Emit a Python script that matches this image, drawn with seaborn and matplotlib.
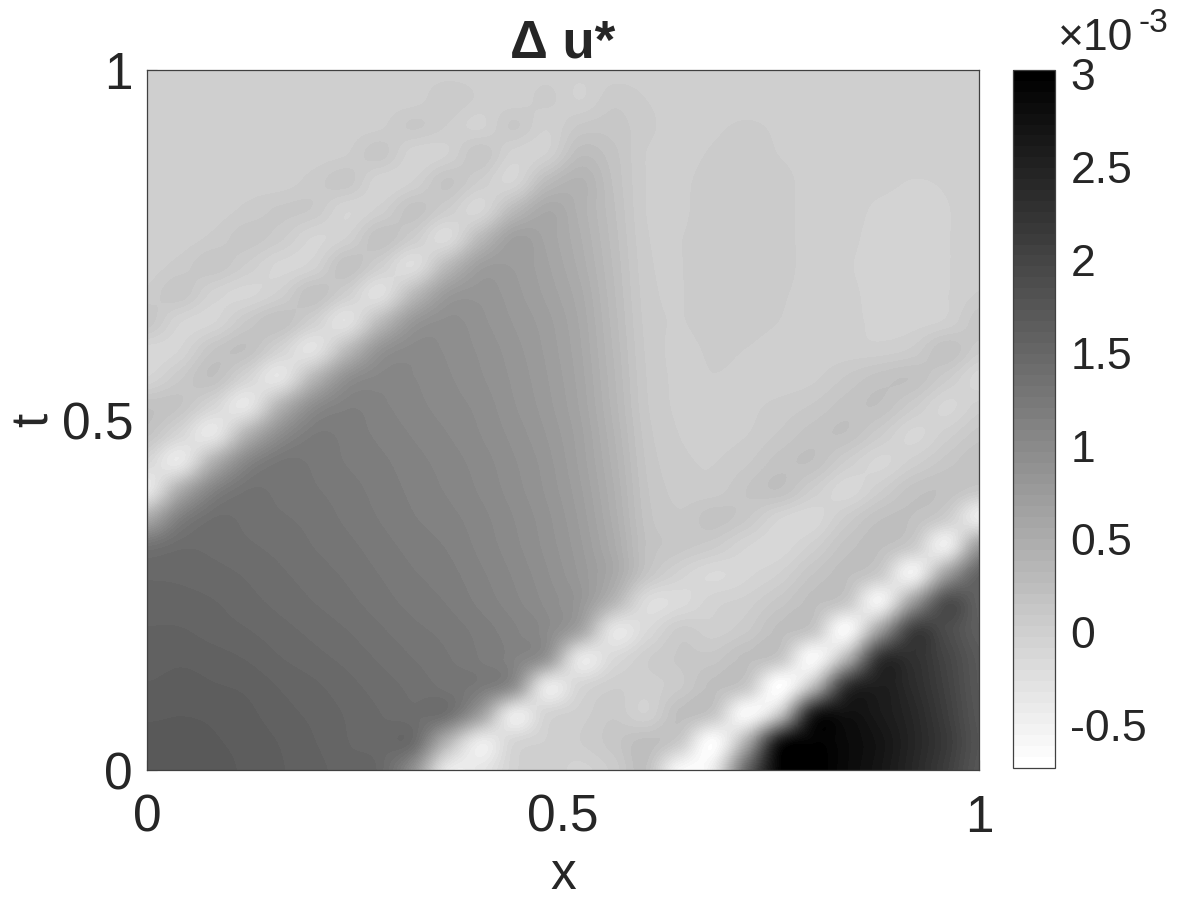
import numpy as np
import pandas as pd
import matplotlib
matplotlib.use('Agg')
import matplotlib.pyplot as plt
from matplotlib.colors import ListedColormap
import seaborn as sns

# grid, values in units of 1e-3
x_vals = [0.00,0.04,0.08,0.12,0.16,0.20,0.24,0.28,0.32,0.36,0.40,0.44,0.48,0.52,0.56,0.60,0.64,0.68,0.72,0.76,0.80,0.84,0.88,0.92,0.96,1.00]
t_vals = [0.00,0.04,0.08,0.12,0.16,0.20,0.24,0.28,0.32,0.36,0.40,0.44,0.48,0.52,0.56,0.60,0.64,0.68,0.72,0.76,0.80,0.84,0.88,0.92,0.96,1.00]

du = [
 [1.72,1.72,1.70,1.66,1.62,1.58,1.52,1.47,0.90,-.35,-.35,-.05,0.02,-.05,0.05,0.20,-.60,-.40,1.50,2.95,3.02,2.85,2.68,2.42,2.10,1.75],
 [1.70,1.70,1.68,1.65,1.61,1.56,1.50,1.46,1.40,0.40,-.40,-.10,-.02,0.03,0.12,0.23,0.05,-.65,0.50,2.60,2.95,2.85,2.70,2.45,2.15,1.78],
 [1.66,1.67,1.66,1.63,1.58,1.54,1.49,1.44,1.39,1.33,0.70,-.38,-.08,0.00,0.08,-.02,0.22,0.10,-.60,0.20,2.50,2.75,2.62,2.42,2.10,1.75],
 [1.62,1.64,1.62,1.60,1.55,1.51,1.46,1.41,1.36,1.30,1.22,0.90,-.35,-.10,0.02,0.00,0.08,0.22,0.08,-.68,0.30,2.20,2.55,2.35,2.05,1.72],
 [1.58,1.60,1.58,1.55,1.50,1.46,1.42,1.37,1.32,1.27,1.20,1.10,0.80,-.33,-.15,0.02,0.10,0.12,0.22,0.10,-.60,0.40,2.20,2.28,2.00,1.70],
 [1.56,1.56,1.53,1.50,1.46,1.42,1.38,1.33,1.28,1.24,1.18,1.10,0.98,0.60,-.30,-.15,0.05,0.00,0.08,0.22,0.10,-.60,0.70,2.05,1.90,1.62],
 [1.52,1.52,1.50,1.46,1.42,1.38,1.34,1.29,1.24,1.20,1.13,1.05,0.95,0.80,0.35,-.18,-.17,-.05,0.00,0.12,0.22,0.08,-.50,0.75,1.85,1.58],
 [1.48,1.48,1.46,1.43,1.39,1.35,1.31,1.26,1.21,1.17,1.10,1.02,0.92,0.78,0.55,0.15,-.05,-.15,-.10,-.02,0.15,0.22,0.05,-.48,0.70,1.55],
 [1.32,1.42,1.42,1.39,1.36,1.32,1.28,1.23,1.18,1.14,1.07,0.99,0.89,0.75,0.52,0.20,0.12,0.05,-.08,-.12,0.00,0.18,0.22,0.05,-.43,0.75],
 [0.55,1.15,1.38,1.36,1.33,1.30,1.25,1.20,1.15,1.11,1.05,0.97,0.87,0.72,0.48,0.18,0.10,0.18,0.10,-.08,-.12,0.05,0.20,0.20,0.02,-.42],
 [-.35,0.50,1.10,1.32,1.30,1.27,1.23,1.18,1.13,1.08,1.02,0.94,0.84,0.69,0.45,0.16,0.07,0.06,0.15,0.20,0.02,-.12,0.02,0.18,0.20,0.10],
 [-.12,-.35,0.45,1.05,1.27,1.25,1.20,1.16,1.11,1.06,1.00,0.92,0.82,0.66,0.42,0.14,0.05,0.03,0.08,0.18,0.20,0.02,-.10,0.00,0.12,0.20],
 [0.17,-.10,-.33,0.40,0.95,1.20,1.18,1.13,1.08,1.03,0.97,0.89,0.79,0.64,0.39,0.12,0.03,0.02,0.03,0.10,0.18,0.20,0.05,-.10,0.00,0.12],
 [0.20,0.15,-.10,-.32,0.40,0.95,1.13,1.10,1.05,1.00,0.95,0.86,0.76,0.61,0.36,0.10,0.02,0.02,0.02,0.05,0.10,0.18,0.20,0.05,-.10,0.00],
 [-.08,0.08,0.20,-.08,-.30,0.35,0.90,1.05,1.03,0.98,0.92,0.84,0.74,0.59,0.34,0.09,0.02,0.03,0.02,0.00,0.02,0.10,0.18,0.20,0.05,-.12],
 [-.12,-.08,0.15,0.20,-.06,-.27,0.30,0.85,1.00,0.96,0.90,0.82,0.72,0.57,0.32,0.08,0.02,0.04,0.03,0.00,0.00,0.00,0.00,0.05,0.20,0.05],
 [0.13,-.08,-.09,0.10,0.20,-.02,-.25,0.30,0.80,0.93,0.87,0.79,0.70,0.55,0.30,0.07,0.03,0.06,0.06,0.03,0.00,0.00,-.05,-.05,-.01,0.13],
 [0.05,0.13,-.05,-.10,0.00,0.20,0.00,-.23,0.30,0.75,0.83,0.76,0.66,0.52,0.28,0.06,0.03,0.07,0.07,0.04,0.01,-.01,-.05,-.05,-.03,0.04],
 [0.00,0.06,0.13,0.02,-.10,-.05,0.20,0.00,-.20,0.30,0.70,0.73,0.63,0.48,0.26,0.05,0.03,0.07,0.07,0.05,0.01,-.02,-.05,-.05,-.03,0.00],
 [0.00,0.00,0.05,0.12,0.05,-.09,-.02,0.20,0.03,-.17,0.30,0.68,0.60,0.45,0.24,0.04,0.03,0.07,0.07,0.05,0.01,-.01,-.05,-.05,-.03,0.00],
 [0.00,0.00,0.00,0.05,0.10,0.08,-.08,0.00,0.18,0.03,-.10,0.30,0.55,0.42,0.22,0.03,0.02,0.07,0.07,0.05,0.01,0.00,-.04,-.05,-.03,0.00],
 [0.00,0.00,0.00,0.00,0.00,0.06,0.12,-.07,-.02,0.16,0.02,-.08,0.28,0.40,0.20,0.03,0.02,0.06,0.07,0.05,0.01,0.00,-.01,-.03,-.02,0.00],
 [0.00,0.00,0.00,0.00,0.00,0.00,0.03,0.12,-.06,-.03,0.14,-.05,-.02,0.25,0.17,0.03,0.01,0.04,0.06,0.03,0.01,0.00,0.00,0.00,0.00,0.00],
 [0.00,0.00,0.00,0.00,0.00,0.00,0.00,0.02,0.10,0.03,-.04,0.10,-.02,0.10,0.12,0.05,0.00,0.02,0.04,0.02,0.00,0.00,0.00,0.00,0.00,0.00],
 [0.00,0.00,0.00,0.00,0.00,0.00,0.00,0.00,0.00,0.08,0.02,-.01,0.05,-.03,0.07,0.03,0.00,0.00,0.00,0.00,0.00,0.00,0.00,0.00,0.00,0.00],
 [0.00,0.00,0.00,0.00,0.00,0.00,0.00,0.00,0.00,0.00,0.00,0.00,0.00,-.01,0.00,0.00,0.00,0.00,0.00,0.00,0.00,0.00,0.00,0.00,0.00,0.00],
]
cbar_ticks = [-0.5, 0, 0.5, 1, 1.5, 2, 2.5, 3]
cbar_labels = ['-0.5', '0', '0.5', '1', '1.5', '2', '2.5', '3']

sns.set_theme(style='white')
plt.rcParams['font.family'] = ['Liberation Sans', 'DejaVu Sans']

vmin, vmax = -0.73, 3.02
gray64 = ListedColormap(plt.get_cmap('gray_r')(np.linspace(0, 1, 64)))
df = pd.DataFrame(du, index=t_vals, columns=x_vals)
nx, nt = len(x_vals), len(t_vals)

fig = plt.figure(figsize=(12, 9), dpi=100)
ax = fig.add_axes([147/1200, 1-770/900, 832/1200, 700/900])
cax = fig.add_axes([1013/1200, 1-768/900, 42/1200, 698/900])

sns.heatmap(df, ax=ax, cbar_ax=cax, cmap=gray64, vmin=vmin, vmax=vmax,
            xticklabels=False, yticklabels=False)
# smooth the cells, colours stay in 64 steps like the original contour plot
ax.imshow(df.values, origin='lower', extent=(0, nx, 0, nt), aspect='auto', cmap=gray64,
          vmin=vmin, vmax=vmax, interpolation='catrom', interpolation_stage='data', zorder=2)
ax.set_xlim(0.5, nx-0.5)
ax.set_ylim(0.5, nt-0.5)

txt = '#262626'
fs = 37
ax.set_xticks([0.5, nx/2, nx-0.5])
ax.set_xticklabels(['0', '0.5', '1'])
ax.set_yticks([0.5, nt/2, nt-0.5])
ax.set_yticklabels(['0', '0.5', '1'])
ax.tick_params(axis='x', direction='in', length=7, width=0.8, color='#404040',
               labelsize=fs, labelcolor=txt, bottom=True, pad=17)
ax.tick_params(axis='y', direction='in', length=7, width=0.8, color='#404040',
               labelsize=fs, labelcolor=txt, left=True, pad=10)
for s in ax.spines.values():
    s.set_visible(True)
    s.set_color('#404040')
    s.set_linewidth(0.9)

ax.set_xlabel('x', fontsize=fs, color=txt, labelpad=6)
ax.set_ylabel('t', fontsize=fs, color=txt, labelpad=2)
ax.set_title('\u0394 u*', fontsize=38, fontweight='bold', color=txt, pad=9)

cbar = ax.collections[0].colorbar
cbar.set_ticks(cbar_ticks)
cbar.set_ticklabels(cbar_labels)
cbar.ax.tick_params(direction='in', length=6, width=0.8, color='#404040', labelsize=32, labelcolor=txt, pad=11)
cbar.outline.set_visible(True)
cbar.outline.set_edgecolor('#404040')
cbar.outline.set_linewidth(0.9)

fig.text(1058/1200, 1-50/900, '\u00d710', fontsize=32, color=txt, ha='left', va='baseline')
fig.text(1139/1200, 1-32/900, '-3', fontsize=24, color=txt, ha='left', va='baseline')

plt.savefig('out.png', dpi=100)
